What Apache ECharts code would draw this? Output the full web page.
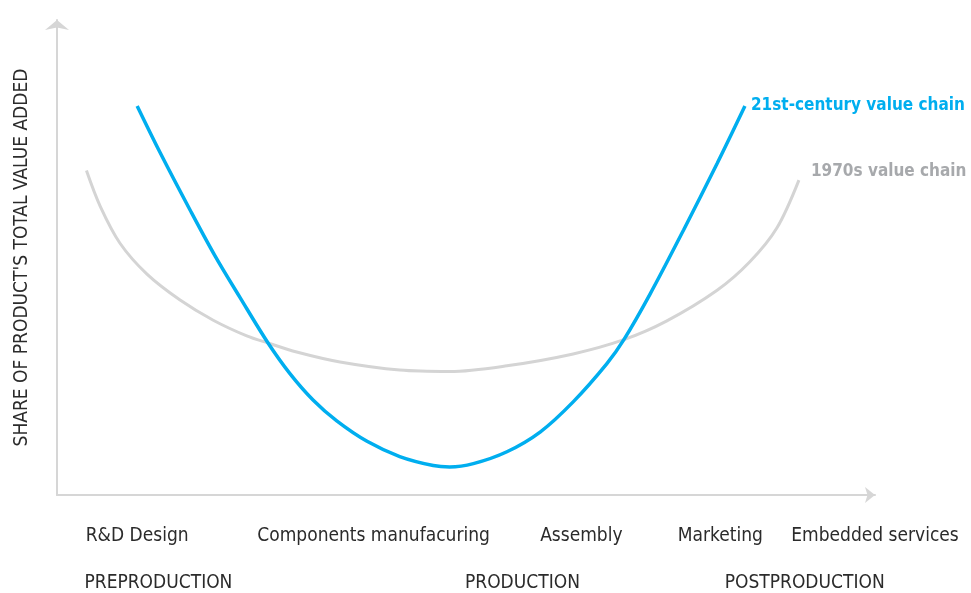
<!DOCTYPE html>
<html>
<head>
<meta charset="utf-8">
<script src="https://cdn.jsdelivr.net/npm/echarts@6/dist/echarts.min.js"></script>
<style>
  html, body { margin: 0; padding: 0; background: #fff; }
  #chart { width: 971px; height: 593px; }
</style>
</head>
<body>
<div id="chart"></div>
<script>
// value chain "smile curves", x and y are 0..100 on both axes
var modernX = [9.8, 12.6, 16.3, 19.3, 22.4, 25.8, 28.5, 31.3, 34.2, 37.9, 41.9, 46.0, 48.0, 50.9, 55.0, 59.1, 63.1, 67.2, 69.3, 72.5, 76.6, 80.7, 84.1];
var modernY = [81.9, 72.1, 59.9, 50.4, 41.5, 32.0, 25.5, 20.0, 15.6, 11.3, 8.1, 6.2, 5.9, 6.6, 9.1, 13.3, 19.6, 27.6, 32.7, 42.3, 55.8, 69.8, 81.9];
var oldX = [3.6, 5.3, 7.7, 11.0, 15.0, 19.1, 23.2, 25.8, 29.3, 34.6, 41.9, 48.0, 55.0, 63.1, 69.3, 74.5, 80.7, 84.7, 88.0, 90.7];
var oldY = [68.3, 60.7, 53.0, 46.5, 41.1, 36.8, 33.5, 32.0, 30.1, 28.0, 26.3, 26.0, 27.2, 29.7, 32.7, 36.6, 43.1, 49.1, 56.2, 66.3];

var stepNames = ['R&D Design', 'Components manufacuring', 'Assembly', 'Marketing', 'Embedded services'];
var stepPos = [9.8, 38.7, 64.1, 81.1, 100];
var stageNames = ['PREPRODUCTION', 'PRODUCTION', 'POSTPRODUCTION'];
var stagePos = [12.4, 56.9, 91.4];

var font = "'DejaVu Sans Condensed', 'Liberation Sans Narrow', sans-serif";

function pairs(xs, ys) {
  var out = [];
  for (var i = 0; i < xs.length; i++) out.push([xs[i], ys[i]]);
  return out;
}
function nameAt(names, pos) {
  return function (v) {
    for (var i = 0; i < pos.length; i++) {
      if (Math.abs(pos[i] - v) < 0.01) return names[i];
    }
    return '';
  };
}

var myChart = echarts.init(document.getElementById('chart'));
var option = {
  animation: false,
  grid: { left: 57, top: 20, width: 818, height: 475, containLabel: false, outerBoundsMode: 'none' },
  xAxis: [
    {
      type: 'value', min: 0, max: 100,
      axisLine: { show: true, symbol: ['none', 'arrow'], symbolSize: [12, 10],
        lineStyle: { color: '#d6d6d6', width: 2 } },
      axisTick: { show: false },
      splitLine: { show: false },
      axisLabel: { show: true, customValues: stepPos, formatter: nameAt(stepNames, stepPos),
        margin: 32, color: '#2b2b2b', fontSize: 19, fontFamily: font, hideOverlap: false }
    },
    {
      type: 'value', min: 0, max: 100, position: 'bottom',
      axisLine: { show: false }, axisTick: { show: false }, splitLine: { show: false },
      axisLabel: { show: true, customValues: stagePos, formatter: nameAt(stageNames, stagePos),
        margin: 79, color: '#2b2b2b', fontSize: 19, fontFamily: font, hideOverlap: false }
    }
  ],
  yAxis: {
    type: 'value', min: 0, max: 100,
    name: "SHARE OF PRODUCT'S TOTAL VALUE ADDED",
    nameLocation: 'middle', nameRotate: 90, nameGap: 25,
    nameTextStyle: { color: '#2b2b2b', fontSize: 19, fontFamily: font },
    axisLine: { show: true, symbol: ['none', 'arrow'], symbolSize: [18, 10],
      lineStyle: { color: '#d6d6d6', width: 2 } },
    axisTick: { show: false },
    axisLabel: { show: false },
    splitLine: { show: false }
  },
  series: [
    {
      name: '1970s value chain',
      type: 'line',
      data: pairs(oldX, oldY),
      smooth: 0.33,
      showSymbol: false,
      lineStyle: { color: '#d4d4d4', width: 3 },
      endLabel: { show: true, formatter: '{a}', distance: 12, offset: [0, -8],
        color: '#a7a9ac', fontWeight: 'bold', fontSize: 17, fontFamily: font }
    },
    {
      name: '21st-century value chain',
      type: 'line',
      data: pairs(modernX, modernY),
      smooth: 0.33,
      showSymbol: false,
      lineStyle: { color: '#00aeef', width: 3.5 },
      endLabel: { show: true, formatter: '{a}', distance: 6,
        color: '#00aeef', fontWeight: 'bold', fontSize: 17, fontFamily: font }
    }
  ]
};
myChart.setOption(option);
</script>
</body>
</html>
